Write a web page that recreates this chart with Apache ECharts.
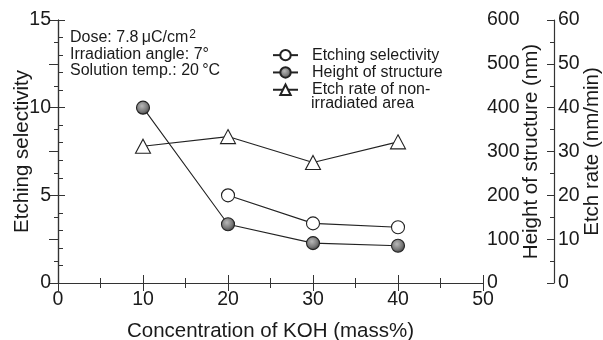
<!DOCTYPE html>
<html>
<head>
<meta charset="utf-8">
<script src="https://cdn.jsdelivr.net/npm/echarts@6/dist/echarts.min.js"></script>
<style>
  html, body { margin: 0; padding: 0; background: #fff; }
  #chart { width: 603px; height: 340px; }
</style>
</head>
<body>
<div id="chart"></div>
<script>
// KOH concentration (mass%)
const concentration = [10, 20, 30, 40];
// Etching selectivity (no value at 10 mass%)
const selectivity = [null, 5.0, 3.4, 3.18];
// Height of structure (nm)
const structureHeight = [400, 134, 91, 85];
// Etch rate of non-irradiated area (nm/min)
const etchRate = [31.2, 33.4, 27.5, 32.2];

const seriesNames = ['Etching selectivity', 'Height of structure', 'Etch rate of non-'];

const FONT = '"Liberation Sans", Arial, Helvetica, sans-serif';
const INK = '#1a1a1a';
const AXIS = '#333';

function pairs(values) {
  return concentration.map((x, i) => [x, values[i]]).filter(p => p[1] !== null);
}

const chart = echarts.init(document.getElementById('chart'), null, { renderer: 'canvas' });

const tickLabel = { color: INK, fontFamily: FONT, fontSize: 19.5 };
const axisName = { color: INK, fontFamily: FONT, fontSize: 20.5 };
const axisLine = { show: true, lineStyle: { color: AXIS, width: 1.2 } };

const grayBall = {
  type: 'radial', x: 0.42, y: 0.38, r: 0.65,
  colorStops: [
    { offset: 0, color: '#b8b8b8' },
    { offset: 0.6, color: '#7a7a7a' },
    { offset: 1, color: '#3c3c3c' }
  ]
};

chart.setOption({
  animation: false,
  backgroundColor: '#fff',
  grid: { left: 58, right: 120, top: 20, bottom: 57, containLabel: false, outerBoundsMode: 'none' },
  title: {
    left: 70, top: 29, padding: 0,
    itemGap: 0,
    text: '{t|Dose: 7.8\u2009\u03bcC/cm}{s|2}\n{t|Irradiation angle: 7\u00b0}\n{t|Solution temp.: 20\u2009\u00b0C}',
    textStyle: {
      fontWeight: 'normal',
      rich: {
        t: { fontFamily: FONT, fontSize: 16, fontWeight: 'normal', color: INK, lineHeight: 16.8 },
        s: { fontFamily: FONT, fontSize: 12, fontWeight: 'normal', color: INK, lineHeight: 16.8, verticalAlign: 'top', padding: [0, 0, 0, 1] }
      }
    }
  },
  legend: {
    orient: 'vertical',
    left: 272, top: 46.5, padding: 0,
    itemWidth: 25, itemHeight: 13, itemGap: 0,
    data: seriesNames,
    textStyle: { fontFamily: FONT, fontSize: 16, color: INK, lineHeight: 17.3, padding: [0, 0, 0, 9] }
  },
  graphic: [
    {
      type: 'text', left: 311, top: 95.5,
      style: { text: 'irradiated area', font: '16px ' + FONT, fill: INK }
    }
  ],
  xAxis: [
    {
      type: 'value', min: 0, max: 50, interval: 10, position: 'bottom',
      name: 'Concentration of KOH (mass%)', nameLocation: 'middle', nameGap: 38, nameMoveOverlap: false,
      nameTextStyle: axisName,
      axisLine: axisLine,
      axisTick: { show: true, inside: true, length: 8, lineStyle: { color: AXIS } },
      minorTick: { show: true, splitNumber: 2, length: 5, lineStyle: { color: AXIS } },
      axisLabel: Object.assign({ margin: 7 }, tickLabel),
      splitLine: { show: false }
    },
    {
      type: 'value', min: 0, max: 50, interval: 10, position: 'top',
      axisLine: axisLine,
      axisTick: { show: true, inside: true, length: 8, lineStyle: { color: AXIS } },
      minorTick: { show: true, splitNumber: 2, length: 5, lineStyle: { color: AXIS } },
      axisLabel: { show: false },
      splitLine: { show: false }
    }
  ],
  yAxis: [
    {
      type: 'value', min: 0, max: 15, interval: 5, position: 'left',
      name: 'Etching selectivity', nameLocation: 'middle', nameGap: 25, nameMoveOverlap: false,
      nameTextStyle: axisName,
      axisLine: axisLine,
      axisTick: { show: true, inside: true, length: 7, lineStyle: { color: AXIS } },
      minorTick: { show: true, splitNumber: 5, length: 5, lineStyle: { color: AXIS } },
      axisLabel: Object.assign({ margin: 7 }, tickLabel),
      splitLine: { show: false }
    },
    {
      type: 'value', min: 0, max: 600, interval: 100, position: 'right', offset: 0,
      name: 'Height of structure (nm)', nameLocation: 'middle', nameGap: 38, nameMoveOverlap: false,
      nameTextStyle: axisName,
      axisLine: axisLine,
      axisTick: { show: true, inside: true, length: 9, lineStyle: { color: AXIS } },
      minorTick: { show: true, splitNumber: 2, length: 4, lineStyle: { color: AXIS } },
      axisLabel: Object.assign({ margin: 4 }, tickLabel),
      splitLine: { show: false }
    },
    {
      type: 'value', min: 0, max: 60, interval: 10, position: 'right', offset: 71,
      name: 'Etch rate (nm/min)', nameLocation: 'middle', nameGap: 28, nameMoveOverlap: false,
      nameTextStyle: axisName,
      axisLine: axisLine,
      axisTick: { show: true, inside: true, length: 7, lineStyle: { color: AXIS } },
      minorTick: { show: true, splitNumber: 2, length: 4, lineStyle: { color: AXIS } },
      axisLabel: Object.assign({ margin: 4 }, tickLabel),
      splitLine: { show: false }
    }
  ],
  series: [
    {
      name: seriesNames[0], type: 'line', xAxisIndex: 0, yAxisIndex: 0,
      data: pairs(selectivity),
      symbol: 'circle', symbolSize: 13, showAllSymbol: true,
      lineStyle: { color: '#222', width: 1.1 },
      itemStyle: { color: '#fff', borderColor: '#222', borderWidth: 1.1 },
      z: 3
    },
    {
      name: seriesNames[1], type: 'line', xAxisIndex: 0, yAxisIndex: 1,
      data: pairs(structureHeight),
      symbol: 'circle', symbolSize: 13, showAllSymbol: true,
      lineStyle: { color: '#222', width: 1.1 },
      itemStyle: { color: grayBall, borderColor: '#222', borderWidth: 1.1 },
      z: 3
    },
    {
      name: seriesNames[2], type: 'line', xAxisIndex: 0, yAxisIndex: 2,
      data: pairs(etchRate),
      symbol: 'triangle', symbolSize: [15, 14], showAllSymbol: true,
      lineStyle: { color: '#222', width: 1.1 },
      itemStyle: { color: '#fff', borderColor: '#222', borderWidth: 1.1 },
      z: 3
    }
  ]
});
</script>
</body>
</html>
